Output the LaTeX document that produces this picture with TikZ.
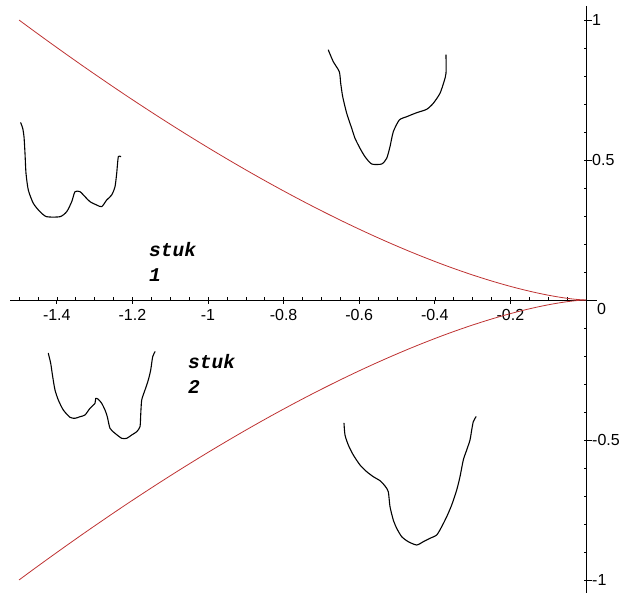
\documentclass[tikz,border=0pt]{standalone}
\usepackage{fontspec}
\setmainfont{Liberation Sans}
\newfontfamily\stukfont{Liberation Mono}
\definecolor{curvered}{RGB}{190,50,50}
\begin{document}
\begin{tikzpicture}[x=1pt,y=-1pt,
  axisline/.style={black,line width=0.9pt},
  ticklab/.style={font=\fontsize{16}{16}\selectfont,inner sep=0pt},
  stuklab/.style={font=\stukfont\bfseries\itshape\fontsize{19.5}{19.5}\selectfont,inner sep=0pt,anchor=west},
  cusp/.style={curvered,line width=0.8pt},
  sketch/.style={black,line width=1.1pt,line join=round,line cap=round}]
\useasboundingbox (0,0) rectangle (619,593);
% axes
\coordinate (xl) at (10,300);
\coordinate (xr) at (597,300);
\coordinate (yt) at (586,6);
\coordinate (yb) at (586,593);
\draw[axisline] (xl) -- (xr);
\draw[axisline] (yt) -- (yb);
% x ticks
\foreach \i in {0,...,30} {
  \pgfmathsetmacro{\xx}{586-378*1.5+18.9*\i}
  \draw[black,line width=0.6pt] (\xx,300) -- (\xx,297.5);
}
\foreach \t/\lab in {-1.4/{-1.4},-1.2/{-1.2},-1/{-1},-0.8/{-0.8},-0.6/{-0.6},-0.4/{-0.4},-0.2/{-0.2}} {
  \pgfmathsetmacro{\xx}{586+378*\t}
  \draw[black,line width=0.7pt] (\xx,300) -- (\xx,304);
  \node[ticklab] (xlab\lab) at (\xx,315) {\lab};
}
% y ticks
\foreach \i in {-10,...,10} {
  \pgfmathsetmacro{\yy}{300-28*\i}
  \draw[black,line width=0.6pt] (586,\yy) -- (583.5,\yy);
}
\foreach \v/\lab in {1/1,0.5/0.5,-0.5/-0.5,-1/-1} {
  \pgfmathsetmacro{\yy}{300-280*\v}
  \draw[black,line width=0.7pt] (586,\yy) -- (592,\yy);
  \node[ticklab,anchor=west] (ylab\lab) at (592,\yy) {\lab};
}
\node[ticklab,anchor=west] (ylab0) at (597,309) {0};
% cusp curve
\draw[cusp] plot[domain=0:1.5,samples=120,smooth] ({586-378*\x},{300-280*(\x/1.5)*sqrt(\x/1.5)});
\draw[cusp] plot[domain=0:1.5,samples=120,smooth] ({586-378*\x},{300+280*(\x/1.5)*sqrt(\x/1.5)});
% labels
\node[stuklab] (s1a) at (149,250) {stuk};
\node[stuklab] (s1b) at (149,275) {1};
\node[stuklab] (s2a) at (188,362) {stuk};
\node[stuklab] (s2b) at (188,387) {2};
% sketches
\draw[sketch] plot[smooth,tension=0.4] coordinates {(20.7,122.7) (22.7,128.3) (24,136.7) (25,153.3) (26,173.3) (28.3,190) (33.3,203.3) (40,211.7) (46.7,216.7) (60,216.7) (66.7,211.7) (71.7,201.7) (75,191.7) (80,191.7) (85,196.7) (90,201.7) (96.7,205) (101.7,206.7) (106.7,200) (111.7,195) (115,186.7) (116.7,173.3) (118.3,156.7) (120.7,156.7)};
\draw[sketch] plot[smooth,tension=0.4] coordinates {(328.3,50) (333.3,61.7) (339.3,71.7) (340.7,83.3) (342.7,96.7) (346.7,113.3) (351.7,128.3) (355,138.3) (360,148.3) (365,156.7) (371.7,164) (381.7,164) (386.7,158.3) (390,146.7) (393.3,131.7) (399.3,120) (406.7,116.7) (416.7,112.7) (426.7,109.3) (433.3,103.3) (440,93.3) (444,81.7) (446,73.3) (446,55)};
\draw[sketch] plot[smooth,tension=0.4] coordinates {(48.3,353.3) (50.7,363.3) (52.7,376.7) (55,390) (58.3,400) (63.3,410) (70,417.3) (75,418.3) (80,416.7) (85,415) (90,408.3) (95,403.3) (95.7,398.3) (98.3,399.3) (101.7,403.3) (105,410) (107.3,416.7) (110,428.3) (115,433.3) (121.7,438.3) (126.7,438.3) (131.7,435) (136.7,431.7) (140,426.7) (140.7,415) (141.7,400) (145,390) (148.3,380) (150.7,370) (152.7,356.7) (155,351.7)};
\draw[sketch] plot[smooth,tension=0.4] coordinates {(344,423.3) (345,435) (348.3,445) (353.3,455) (360,465) (366.7,471.7) (373.3,476.7) (380,480.7) (385,486) (388.3,491.7) (390,506.7) (393.3,520) (396.7,528.3) (401.7,536.7) (408.3,541.7) (416.7,545) (423.3,541.7) (430,538.3) (436.7,535) (441.7,526.7) (446.7,516.7) (451.7,505) (456.7,490) (460,476.7) (463.3,460) (466.7,450) (470,440) (471.7,430) (473.3,421.7) (476,416.7)};
\end{tikzpicture}
\end{document}
